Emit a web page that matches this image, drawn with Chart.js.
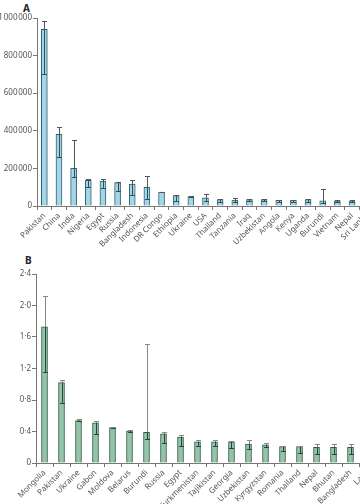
<!DOCTYPE html>
<html>
<head>
<meta charset="utf-8">
<script src="https://cdn.jsdelivr.net/npm/chart.js@4"></script>
<style>
  html, body { margin: 0; padding: 0; background: #fff; }
  body { width: 360px; height: 504px; overflow: hidden; position: relative; }
  canvas { position: absolute; left: 0; }
  .panel { position: absolute; font: bold 10px "Noto Sans", sans-serif; color: #222; }
</style>
</head>
<body>
<div class="panel" style="left:23px;top:1px">A</div>
<div class="panel" style="left:25px;top:253px">B</div>
<canvas id="chartA" width="385" height="250" style="top:0"></canvas>
<canvas id="chartB" width="385" height="254" style="top:250px"></canvas>
<script>
// panel A: counts
const countriesA = ['Pakistan', 'China', 'India', 'Nigeria', 'Egypt', 'Russia', 'Bangladesh', 'Indonesia',
  'DR Congo', 'Ethiopia', 'Ukraine', 'USA', 'Thailand', 'Tanzania', 'Iraq', 'Uzbekistan', 'Angola',
  'Kenya', 'Uganda', 'Burundi', 'Vietnam', 'Nepal', 'Sri Lanka'];
const valuesA = [940000, 381000, 200000, 136000, 133000, 124000, 117000, 99000, 74000, 55000, 50000,
  44000, 34000, 32000, 34000, 34000, 30000, 30000, 34000, 27000, 28000, 28000, 26000];
const lowerA = [701000, 259000, 152000, 100000, 96000, 80000, 60000, 36000, 72000, 28000, 48000,
  28000, 19000, 20000, 24000, 24000, 20000, 20000, 22000, 16000, 20000, 20000, 18000];
const upperA = [982000, 422000, 351000, 142000, 146000, 128000, 138000, 158000, 76000, 57000, 52000,
  62000, 36000, 44000, 36000, 36000, 32000, 32000, 39000, 92000, 30000, 30000, 28000];
const ticksA = [0, 200000, 400000, 600000, 800000, 1000000];

// panel B: rates
const countriesB = ['Mongolia', 'Pakistan', 'Ukraine', 'Gabon', 'Moldova', 'Belarus', 'Burundi', 'Russia',
  'Egypt', 'Turkmenistan', 'Tajikistan', 'Georgia', 'Uzbekistan', 'Kyrgyzstan', 'Romania', 'Thailand',
  'Nepal', 'Bhutan', 'Bangladesh', 'Laos'];
const valuesB = [1.73, 1.02, 0.54, 0.51, 0.45, 0.41, 0.39, 0.37, 0.33, 0.27, 0.27, 0.27, 0.24, 0.23,
  0.21, 0.21, 0.20, 0.20, 0.20, 0.20];
const lowerB = [1.16, 0.76, 0.53, 0.37, 0.44, 0.40, 0.30, 0.25, 0.22, 0.22, 0.21, 0.19, 0.18, 0.20,
  0.15, 0.13, 0.12, 0.12, 0.12, 0.12];
const upperB = [2.12, 1.06, 0.56, 0.53, 0.46, 0.42, 1.51, 0.39, 0.355, 0.295, 0.29, 0.275, 0.29, 0.25,
  0.215, 0.21, 0.24, 0.24, 0.24, 0.24];
const ticksB = [0, 0.4, 0.8, 1.2, 1.6, 2.0, 2.4];

const errBars = {
  id: 'errbars',
  afterDatasetsDraw(chart, args, opts) {
    const ctx = chart.ctx;
    const y = chart.scales.y;
    const vals = chart.data.datasets[0].data;
    ctx.save();
    ctx.lineWidth = 1;
    chart.getDatasetMeta(0).data.forEach((bar, i) => {
      const x = Math.round(bar.x) + 0.5;
      const yv = y.getPixelForValue(vals[i]);
      const ylo = Math.round(y.getPixelForValue(opts.lower[i])) + 0.5;
      const yhi = Math.round(y.getPixelForValue(opts.upper[i])) + 0.5;
      // part inside the bar
      ctx.strokeStyle = opts.inner;
      ctx.beginPath();
      ctx.moveTo(x, ylo); ctx.lineTo(x, yv);
      ctx.moveTo(x - 2.5, ylo); ctx.lineTo(x + 2.5, ylo);
      ctx.stroke();
      // part above the bar
      ctx.strokeStyle = opts.outer;
      ctx.beginPath();
      ctx.moveTo(x, yv); ctx.lineTo(x, yhi);
      ctx.moveTo(x - 2.5, yhi); ctx.lineTo(x + 2.5, yhi);
      ctx.stroke();
    });
    ctx.restore();
  }
};

const tickFont = { family: '"Noto Sans", sans-serif', size: 8 };

function makeChart(id, labels, data, lower, upper, ticks, fmt, style) {
  return new Chart(document.getElementById(id), {
    type: 'bar',
    data: {
      labels,
      datasets: [{
        data,
        backgroundColor: style.fill,
        borderColor: style.border,
        borderWidth: 1,
        barThickness: 6
      }]
    },
    options: {
      responsive: false,
      animation: false,
      layout: { padding: style.padding },
      plugins: {
        legend: { display: false },
        tooltip: { enabled: false },
        errbars: { lower, upper, inner: style.inner, outer: style.outer }
      },
      scales: {
        x: {
          offset: true,
          grid: { offset: true, drawOnChartArea: false, tickLength: 4, color: '#777' },
          border: { color: '#777' },
          ticks: { font: tickFont, color: '#555', minRotation: 45, maxRotation: 45, padding: 1, autoSkip: false },
          afterFit: s => { s.height = style.xHeight; }
        },
        y: {
          min: 0,
          max: ticks[ticks.length - 1],
          afterBuildTicks: s => { s.ticks = ticks.map(v => ({ value: v })); },
          grid: { drawOnChartArea: false, tickLength: 4, color: '#777' },
          border: { color: '#777' },
          ticks: { font: tickFont, color: '#555', padding: 1, callback: fmt },
          afterFit: s => { s.width = style.yWidth; }
        }
      }
    },
    plugins: [errBars]
  });
}

const fmtA = v => v === 0 ? '0' : String(v).replace(/\B(?=(\d{3})+(?!\d))/g, '\u200a');
const fmtB = v => v === 0 ? '0' : v.toFixed(1).replace('.', '\u00b7');

makeChart('chartA', countriesA, valuesA, lowerA, upperA, ticksA, fmtA, {
  fill: '#a2d5e8', border: '#335f6c', inner: '#2c4f5a', outer: '#555',
  padding: { top: 18, left: 0, right: 11, bottom: 0 }, xHeight: 44, yWidth: 37
});

makeChart('chartB', countriesB, valuesB, lowerB, upperB, ticksB, fmtB, {
  fill: '#93c3a8', border: '#2e5a45', inner: '#24483a', outer: '#888',
  padding: { top: 24, left: 0, right: 9, bottom: 0 }, xHeight: 41, yWidth: 36
});
</script>
</body>
</html>
